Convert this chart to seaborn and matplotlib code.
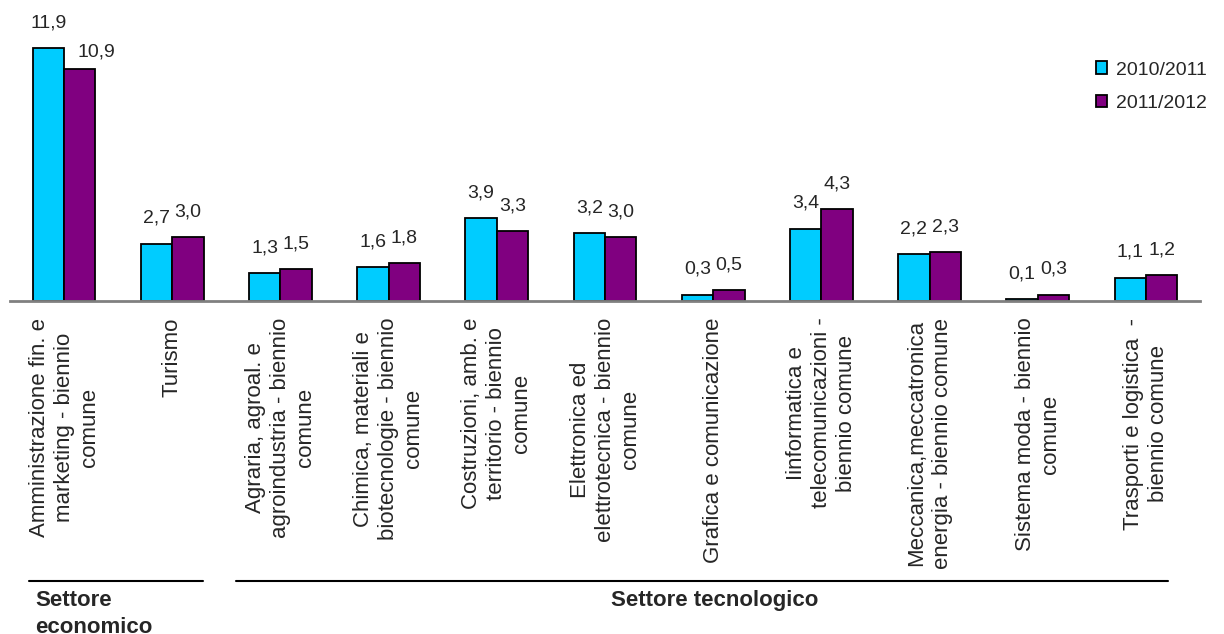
import matplotlib
matplotlib.use("Agg")
import matplotlib.pyplot as plt
from matplotlib.lines import Line2D
from matplotlib.patches import Patch
import seaborn as sns
import pandas as pd

categories = [
    "Amministrazione fin. e\nmarketing - biennio\ncomune",
    "Turismo",
    "Agraria, agroal. e\nagroindustria - biennio\ncomune",
    "Chimica, materiali e\nbiotecnologie - biennio\ncomune",
    "Costruzioni, amb. e\nterritorio - biennio\ncomune",
    "Elettronica ed\nelettrotecnica - biennio\ncomune",
    "Grafica e comunicazione",
    "Iinformatica e\ntelecomunicazioni -\nbiennio comune",
    "Meccanica,meccatronica\nenergia - biennio comune",
    "Sistema moda - biennio\ncomune",
    "Trasporti e logistica  -\nbiennio comune",
]
series = ["2010/2011", "2011/2012"]
val_2010 = [11.9, 2.7, 1.3, 1.6, 3.9, 3.2, 0.3, 3.4, 2.2, 0.1, 1.1]
val_2011 = [10.9, 3.0, 1.5, 1.8, 3.3, 3.0, 0.5, 4.3, 2.3, 0.3, 1.2]
groups = ["Settore\neconomico", "Settore tecnologico"]

colors = {"2010/2011": "#00CCFF", "2011/2012": "#800080"}

sns.set_theme(style="white")
plt.rcParams["font.family"] = ["Liberation Sans", "DejaVu Sans"]

df = pd.DataFrame({
    "cat": categories * 2,
    "anno": [series[0]] * len(categories) + [series[1]] * len(categories),
    "val": val_2010 + val_2011,
})

fig = plt.figure(figsize=(12.24, 6.34), dpi=100)
ax = fig.add_axes([10 / 1224, 1 - 301 / 634, 1190 / 1224, 298 / 634])

sns.barplot(data=df, x="cat", y="val", hue="anno", order=categories,
            hue_order=series, palette=colors, width=0.58, saturation=1,
            edgecolor="black", linewidth=1.3, ax=ax, legend=False)

for cont in ax.containers:
    labs = [f"{b.get_height():.1f}".replace(".", ",") for b in cont]
    anns = ax.bar_label(cont, labels=labs, padding=12, fontsize=14)
    if cont is ax.containers[1]:
        # first purple label sits to the right in the original
        anns[0].xyann = (12, 6)

ax.set_xlim(-0.5, 10.5)
ax.set_ylim(0, 14)
ax.set_xlabel("")
ax.set_ylabel("")
ax.set_yticks([])
ax.tick_params(axis="x", length=0, pad=12)
ax.set_xticks(range(len(categories)))
ax.set_xticklabels(categories, rotation=90, ha="center", va="top",
                   multialignment="center", fontsize=16, linespacing=1.25)
for s in ["top", "left", "right"]:
    ax.spines[s].set_visible(False)
ax.spines["bottom"].set_color("#808080")
ax.spines["bottom"].set_linewidth(2)

handles = [Patch(facecolor=colors[s], edgecolor="black", linewidth=1.3, label=s)
           for s in series]
fig.legend(handles=handles, loc="upper left", bbox_to_anchor=(1078 / 1224, 1 - 44 / 634),
           frameon=False, fontsize=14, handlelength=0.6, handleheight=0.6,
           handletextpad=0.45, labelspacing=0.85)

# group brackets under the labels
yl = 1 - 581 / 634
fig.add_artist(Line2D([29 / 1224, 203 / 1224], [yl, yl], color="black", lw=1.5))
fig.add_artist(Line2D([236 / 1224, 1168 / 1224], [yl, yl], color="black", lw=1.5))
fig.text(35 / 1224, 1 - 590 / 634, groups[0], ha="left", va="top",
         fontsize=16, fontweight="bold", linespacing=1.4)
fig.text(715 / 1224, 1 - 590 / 634, groups[1], ha="center", va="top",
         fontsize=16, fontweight="bold")

fig.savefig("out.png", dpi=100)
